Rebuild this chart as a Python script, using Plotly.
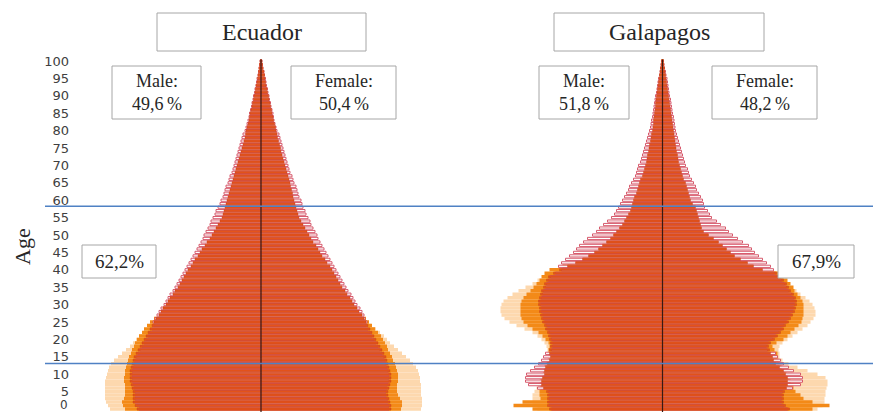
import plotly.graph_objects as go

# ---------------- data (single-year ages 0..100, persons per 10,000) ----------------
ages = list(range(101))
age_ticks = list(range(0, 101, 5))

# Ecuador
ec_male_filled = [124,126,128,128,128,128,129,130,131,131,
                  131,131,130,129,128,127,125,123,121,119,
                  117,115,113,111,109,107,105,102,100,98,
                  95,93,91,88,86,83,81,79,77,75,
                  73,70,68,66,63,61,59,56,54,51,
                  49,47,45,43,41,39,38,37,36,35,
                  34,33,32,31,30,29,28,27,26,25,
                  24,23,22,21,20,19,18,17,16,15.5,
                  15,14,13,12,11.5,11,10,9,8.5,7.5,
                  7,6,5.5,5,4,3.5,3,2.5,2,1.5,
                  1]
ec_male_outline = [122,124,126,126,126,126,127,128,129,129,
                   129,129,128,127,126,125,123,121,119,117,
                   115,113,111,109,107,108,106,104,102,100,
                   97,95,93,91,88,86,84,82,80,78,
                   76,74,72,70,68,66,64,62,60,58,
                   57,55,53,51,50,48,46,45,43,41,
                   40,38,37,36,35,33,32,31,29,28,
                   27,26,25,24,23,22,21,20,19,18,
                   16,15,14,13,12,11.5,10.5,9.5,9,8,
                   7.5,6.5,6,5,4.5,4,3,2.5,2,1.5,
                   1]
ec_male_orange = [136,138,139,137,136,136,136,136,137,137,
                  136,136,135,134,133,132,130,129,127,126,
                  124,122,119,117,114,111,107]
ec_male_peach = [151,153,155,156,156,156,156,156,156,155,
                 154,153,152,150,147,143,139,135,131,128,
                 125,122,118,113,109]

ec_female_filled = [130,130,129,128,127,127,128,129,130,130,
                    130,129,128,127,126,125,123,121,119,117,
                    115,113,111,109,107,105,103,101,98,96,
                    93,91,89,86,84,81,79,77,75,73,
                    71,69,66,64,61,59,57,55,52,50,
                    48,46,44,42,40,38,37,36,35,34,
                    33,32,31.5,30.5,29.5,29,28,27,26,25,
                    24,23,22,21,20,19.5,18.5,17.5,16.5,16,
                    15,14.5,13.5,12.5,12,11,10.5,9.5,9,8,
                    7.5,6.5,6,5,4.5,4,3.5,3,2,1.5,
                    1]
ec_female_outline = [128,128,127,126,125,125,126,127,128,128,
                     128,127,126,125,124,123,121,119,117,115,
                     113,111,109,107,105,106,104,103,101,99,
                     96,94,92,90,87,85,83,81,79,77,
                     75,73,71,69,67,65,63,61,59,57,
                     56,54,52,50,49,47,45,44,42,41,
                     40,38,37,36,35,33,32,31,29,28,
                     27,26,25,24,23,22,21,20,19,18,
                     16,15,14,13,12.5,12,11,10,9.5,8.5,
                     8,7,6.5,5.5,5,4.5,3.5,3,2,1.5,
                     1]
ec_female_orange = [140,141,141,139,137,136,136,136,137,137,
                    137,136,135,134,132,131,129,127,126,124,
                    122,120,117,114,111,108,105]
ec_female_peach = [160,161,161,161,160,160,160,160,159,159,
                   158,157,155,152,149,145,141,137,133,129,
                   126,123,119,115,110]

# Galapagos
ga_male_filled = [113,115,115,115,115,116,119,121,121,120,
                  118,118,117,115,113,112,113,113,112,112,
                  113,114,115,117,118,120,121,122,123,123,
                  124,124,123,122,121,119,118,116,114,109,
                  103,95,87,80,74,68,64,60,56,52,
                  49,46,43,40,38,36,34,32,31,30,
                  29,28,26,25,24,23,22,20,19,18,
                  17,16,15.5,15,14,13.5,13,12,11.5,11,
                  10,9.5,9,9,8.5,8,7.5,7,7,6.5,
                  6,5.5,5,4.5,4,3.5,3,2.5,2,1.5,
                  1]
ga_male_outline = [111,113,113,113,113,114,125,134,137,137,
                   136,132,128,124,121,119,117,111,110,110,
                   111,112,113,115,116,118,119,120,121,121,
                   122,122,121,120,119,117,116,114,112,107,
                   101,104,101,97,93,89,86,83,79,75,
                   70,66,63,59,55,51,48,46,44,42,
                   40,38,36,34,33,31,29,27,26,25,
                   24,22,21,20,19,18,17,16,15,14,
                   13,12,11.5,11,10,9.5,9,8.5,8,7.5,
                   7,6,5.5,5,4.5,4,3,2.5,2,1.5,
                   1]
ga_male_orange = [130,149,140,122,123,123,122,122,122,121,
                  119,119,118,116,114,113,114,114,113,114,
                  117,120,124,130,135,139,141,142,142,142,
                  142,141,139,136,132,129,126,123,121,118,
                  113,100]
ga_male_peach = [125,128,130,130,130,128,126,124,123,122,
                 120,119,118,117,115,114,115,115,116,118,
                 121,125,130,138,146,153,158,161,162,162,
                 161,159,155,150,144,137,130,125]

ga_female_filled = [127,123,121,121,121,122,124,125,125,125,
                    123,121,117,113,111,110,108,107,106,108,
                    112,115,118,121,123,126,128,130,132,133,
                    134,134,133,131,128,126,124,121,118,114,
                    100,91,85,78,72,68,64,60,56,51,
                    46,41,39,38,37,36,35,34,33,30,
                    28,27,26,25,24,23,21,20,19,18,
                    17,16,15.5,15,14,13.5,13,12.5,12,11.5,
                    11,10.5,10,9.5,9,8.5,8,7.5,7,6.5,
                    6,5.5,5,4.5,4,3.5,3,2.5,2,1.5,
                    1]
ga_female_outline = [125,121,119,119,119,120,130,138,140,140,
                     138,131,126,121,118,115,113,105,104,106,
                     110,113,116,119,121,124,126,128,130,131,
                     132,132,131,129,126,124,122,119,116,112,
                     111,108,104,100,96,92,89,86,80,75,
                     70,66,63,58,54,49,47,45,42,41,
                     40,38,36,34,33,31,29,27,26,25,
                     23,22,21,20,19,18,17,16,15,14,
                     13,12.5,12,11.5,11,10,9.5,9,8.5,8,
                     7,6.5,6,5.5,5,4.5,3.5,3,2,1.5,
                     1]
ga_female_orange = [150,167,150,141,138,133,131,131,128,126,
                    124,122,119,117,116,115,115,112,110,114,
                    121,125,128,132,136,139,140,141,141,141,
                    141,140,138,135,132,131,128,125,121,116]
ga_female_peach = [155,160,162,162,163,163,164,165,165,163,
                   155,145,135,126,120,117,117,116,117,120,
                   125,130,135,140,145,148,151,153,153,152,
                   150,147,143,138,134]

titles = ["Ecuador", "Galapagos"]
sex_labels = [("Male:<br>49,6\u2009%", "Female:<br>50,4\u2009%"),
              ("Male:<br>51,8\u2009%", "Female:<br>48,2\u2009%")]
working_age_share = ["62,2%", "67,9%"]

# ---------------- styling ----------------
W, H = 873, 412
ML, MR, MT, MB = 70, 0, 58, 0
PW, PH = W - ML - MR, H - MT - MB

C_PEACH = "#FDD8AE"
C_ORANGE = "#F38A18"
C_FILL = "#E5541B"
C_FILL_LINE = "#C4401C"
C_OUT_LINE = "#D2495E"
SERIF = "Liberation Serif"


def px2paper_x(px):
    return (px - ML) / PW


def px2paper_y(py):
    return (H - MB - py) / PH


fig = go.Figure()


def add_side(xaxis, sign, peach, orange, filled, outline):
    neg = lambda arr: [sign * v for v in arr]
    fig.add_trace(go.Bar(y=ages[:len(peach)], x=neg(peach), orientation="h", width=1.0,
                         xaxis=xaxis, yaxis="y", marker=dict(color=C_PEACH, line=dict(width=0)),
                         showlegend=False, hoverinfo="skip"))
    fig.add_trace(go.Bar(y=ages[:len(orange)], x=neg(orange), orientation="h", width=1.0,
                         xaxis=xaxis, yaxis="y", marker=dict(color=C_ORANGE, line=dict(width=0)),
                         showlegend=False, hoverinfo="skip"))
    # orange stripe behind the filled bars (same series, full thickness)
    fig.add_trace(go.Bar(y=ages, x=neg(filled), orientation="h", width=1.0,
                         xaxis=xaxis, yaxis="y", marker=dict(color=C_ORANGE, line=dict(width=0)),
                         showlegend=False, hoverinfo="skip"))
    fig.add_trace(go.Bar(y=ages, x=neg(outline), orientation="h", width=0.64,
                         xaxis=xaxis, yaxis="y",
                         marker=dict(color="white", line=dict(color=C_OUT_LINE, width=0.9)),
                         showlegend=False, hoverinfo="skip"))
    fig.add_trace(go.Bar(y=ages, x=neg(filled), orientation="h", width=0.58,
                         xaxis=xaxis, yaxis="y",
                         marker=dict(color=C_FILL, line=dict(color=C_FILL_LINE, width=0.4)),
                         showlegend=False, hoverinfo="skip"))


add_side("x", -1, ec_male_peach, ec_male_orange, ec_male_filled, ec_male_outline)
add_side("x", 1, ec_female_peach, ec_female_orange, ec_female_filled, ec_female_outline)
add_side("x2", -1, ga_male_peach, ga_male_orange, ga_male_filled, ga_male_outline)
add_side("x2", 1, ga_female_peach, ga_female_orange, ga_female_filled, ga_female_outline)

split = px2paper_x(452)
left_half = (452 - ML) / 2
right_half = (W - MR - 452) / 2

shapes = []
# centre lines
for xr in ("x", "x2"):
    shapes.append(dict(type="line", xref=xr, yref="y", x0=0, x1=0, y0=-0.9, y1=100.4,
                       line=dict(color="#3A1A12", width=1.2), layer="above"))
# blue horizontal lines
for py in (206.3, 363.5):
    shapes.append(dict(type="line", xref="paper", yref="paper", x0=px2paper_x(45), x1=1,
                       y0=px2paper_y(py), y1=px2paper_y(py),
                       line=dict(color="#4F81C4", width=1.5), layer="above"))

annotations = []


def box(x0, y0, x1, y1, text, size):
    shapes.append(dict(type="rect", xref="paper", yref="paper",
                       x0=px2paper_x(x0), x1=px2paper_x(x1), y0=px2paper_y(y1), y1=px2paper_y(y0),
                       line=dict(color="#A6A6A6", width=1), fillcolor="white", layer="above"))
    annotations.append(dict(xref="paper", yref="paper", x=px2paper_x((x0 + x1) / 2),
                            y=px2paper_y((y0 + y1) / 2), text=text, showarrow=False,
                            xanchor="center", yanchor="middle",
                            font=dict(family=SERIF, size=size, color="#262626")))


box(157, 13, 366, 51, titles[0], 24)
box(554, 13, 764, 51, titles[1], 24)
box(112, 66, 201, 119, sex_labels[0][0], 18)
box(291, 66, 396, 119, sex_labels[0][1], 18)
box(539, 66, 629, 119, sex_labels[1][0], 18)
box(712, 66, 817, 119, sex_labels[1][1], 18)
box(82, 245, 156, 278, working_age_share[0], 19)
box(778, 245, 854, 278, working_age_share[1], 19)

annotations.append(dict(xref="paper", yref="paper", x=px2paper_x(22), y=px2paper_y(247),
                        text="Age", showarrow=False, textangle=-90,
                        xanchor="center", yanchor="middle",
                        font=dict(family=SERIF, size=22, color="#262626")))
# bottom "0" label, kept inside the picture
annotations.append(dict(xref="paper", yref="paper", x=px2paper_x(69), y=px2paper_y(404.5),
                        text="0", showarrow=False, xanchor="right", yanchor="middle",
                        borderpad=0,
                        font=dict(family="DejaVu Sans", size=12, color="#404040")))

y_bottom = -0.862
y_top = y_bottom + PH / 3.48

fig.update_layout(
    width=W, height=H,
    margin=dict(l=ML, r=MR, t=MT, b=MB, pad=0),
    paper_bgcolor="white", plot_bgcolor="white",
    barmode="overlay",
    showlegend=False,
    xaxis=dict(domain=[0, split], range=[-left_half, left_half], visible=False, fixedrange=True),
    xaxis2=dict(domain=[split, 1], range=[-right_half, right_half], visible=False, anchor="y",
                fixedrange=True),
    yaxis=dict(range=[y_bottom, y_top], tickvals=age_ticks[1:],
               ticktext=[str(t) for t in age_ticks[1:]],
               showgrid=False, zeroline=False, showline=False, ticks="",
               tickfont=dict(family="DejaVu Sans", size=13, color="#404040")),
    shapes=shapes,
    annotations=annotations,
)

fig.write_html("out.html", config={"displayModeBar": False},
               post_script="document.body.style.margin='0';document.body.style.padding='0';")
